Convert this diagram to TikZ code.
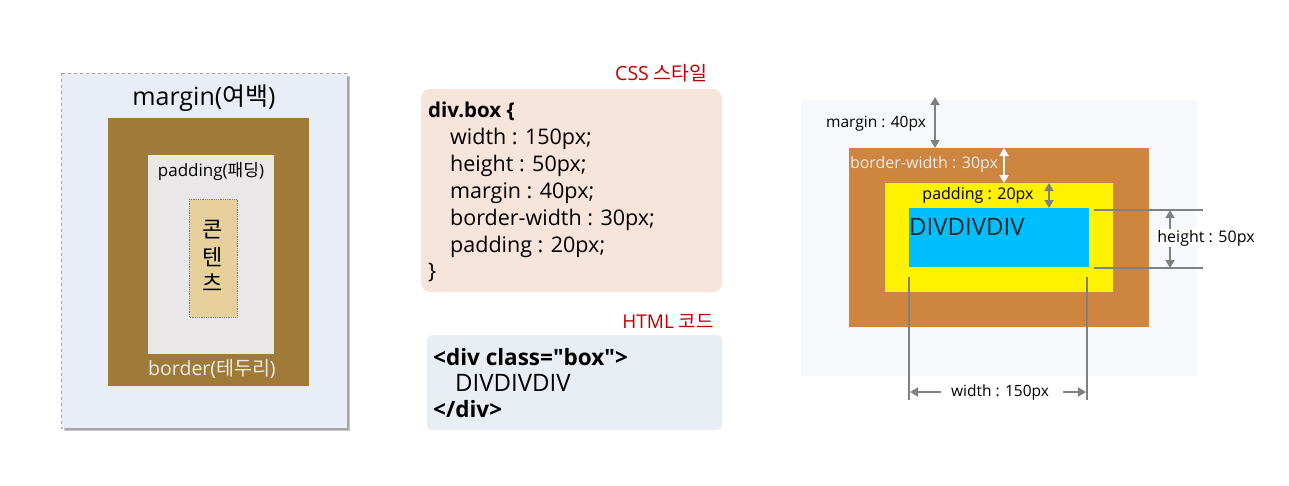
\documentclass[tikz,border=0pt]{standalone}
\usepackage{fontspec}
\setmainfont{Open Sans}[Ligatures=TeXOff]
\newfontfamily\kr{Noto Sans CJK KR}
\usetikzlibrary{arrows.meta}
\definecolor{mbg}{HTML}{E9EEF6}
\definecolor{bbrown}{HTML}{A07B38}
\definecolor{pgray}{HTML}{EAE7E8}
\definecolor{ctan}{HTML}{E8D09C}
\definecolor{cssbg}{HTML}{F7E4DA}
\definecolor{htmlbg}{HTML}{E9EEF5}
\definecolor{rred}{HTML}{C00000}
\definecolor{rmarg}{HTML}{F7F8FC}
\definecolor{rbord}{HTML}{CD8540}
\definecolor{rcyan}{HTML}{00BFFF}
\definecolor{agray}{HTML}{808080}
\tikzset{
  fs/.style={font=\fontsize{#1}{#1}\selectfont},
  fsb/.style={font=\fontsize{#1}{#1}\selectfont\bfseries},
  dim/.style={draw=agray, line width=1.8pt, {Triangle[length=8pt,width=9pt]}-{Triangle[length=8pt,width=9pt]}},
  dimone/.style={draw=agray, line width=1.8pt, -{Triangle[length=8pt,width=9pt]}},
  ext/.style={draw=agray, line width=1.3pt},
  codeline/.style={anchor=base west, inner sep=0pt, fs=21.5},
}
\begin{document}
\begin{tikzpicture}[x=1pt,y=-1pt]
\useasboundingbox (0,0) rectangle (1289,485);
% ---------- left panel
\fill[gray!45] (64,76) rectangle (350,431);
\fill[gray!70] (65,77) rectangle (349,430);
\filldraw[fill=mbg, draw=gray!70, dashed, line width=0.8pt] (61,73) rectangle (347,428);
\node[fs=25, inner sep=0pt] (mtxt) at (204,98) {margin({\kr 여백})};
\fill[bbrown] (108,118) rectangle (309,386);
\fill[pgray] (148,155) rectangle (274,354);
\node[fs=17, inner sep=0pt] (ptxt) at (211,172) {padding({\kr 패딩})};
\filldraw[fill=ctan, draw=gray, densely dotted, line width=0.8pt] (189,199) rectangle (237,317);
\node[fs=22, inner sep=0pt] (c1) at (213,230) {\kr 콘};
\node[fs=22, inner sep=0pt] (c2) at (213,257) {\kr 텐};
\node[fs=22, inner sep=0pt] (c3) at (213,283) {\kr 츠};
\node[fs=19.5, inner sep=0pt, text=white!92!black] (btxt) at (212,369) {border({\kr 테두리})};
% ---------- CSS box
\node[fs=19.5, text=rred, anchor=east, inner sep=0pt] (csslbl) at (708,73) {CSS {\kr 스타일}};
\fill[cssbg, rounded corners=9pt] (421,89) rectangle (722,292);
\node[codeline, fsb=20.5] (l0) at (428,117) {div.box \{};
\node[codeline] (l1) at (450,144) {width : 150px;};
\node[codeline] (l2) at (450,171) {height : 50px;};
\node[codeline] (l3) at (450,198) {margin : 40px;};
\node[codeline] (l4) at (450,225) {border-width : 30px;};
\node[codeline] (l5) at (450,252) {padding : 20px;};
\node[codeline] (l6) at (428,278) {\}};
% ---------- HTML box
\node[fs=19, text=rred, anchor=east, inner sep=0pt] (htmllbl) at (714,321) {HTML {\kr 코드}};
\fill[htmlbg, rounded corners=5pt] (427,335) rectangle (722,430);
\node[codeline, fsb=22.5] (h0) at (433,365) {<div class="box">};
\node[codeline, fs=24] (h1) at (455,391) {DIVDIVDIV};
\node[codeline, fsb=22.5] (h2) at (433,417) {</div>};
% ---------- right box model
\fill[rmarg] (801,100) rectangle (1197,376);
\fill[rbord] (849,148) rectangle (1149,327);
\fill[yellow] (885,183) rectangle (1113,292);
\fill[rcyan] (909,208) rectangle (1089,267);
\node[fs=24, anchor=west, inner sep=0pt, text=black!85] (divtxt) at (909,227) {DIVDIVDIV};
% margin arrow
\coordinate (mt) at (935,97); \coordinate (mb) at (935,148);
\draw[dim] (mt) -- (mb);
\node[fs=15.5, inner sep=0pt] (mlbl) at (876,124) {margin : 40px};
% border arrow
\coordinate (bt) at (1004,148); \coordinate (bb) at (1004,183);
\draw[dim, draw=white] (bt) -- (bb);
\node[fs=16, inner sep=0pt, text=white!92!black] (blbl) at (924,164) {border-width : 30px};
% padding arrow
\coordinate (pt) at (1049,183); \coordinate (pb) at (1049,208);
\draw[dim] (pt) -- (pb);
\node[fs=16, inner sep=0pt] (plbl) at (978,195) {padding : 20px};
% height
\coordinate (h1a) at (1094,210); \coordinate (h1b) at (1203,210);
\coordinate (h2a) at (1094,268); \coordinate (h2b) at (1203,268);
\draw[ext] (h1a) -- (h1b);
\draw[ext] (h2a) -- (h2b);
\coordinate (ht) at (1170,210); \coordinate (hb) at (1170,268);
\draw[dim] (ht) -- (hb);
\node[fs=16, fill=white, inner sep=1pt] (hlbl) at (1206,238) {height : 50px};
% width
\coordinate (w1a) at (909,277); \coordinate (w1b) at (909,400);
\coordinate (w2a) at (1087,277); \coordinate (w2b) at (1087,400);
\draw[ext] (w1a) -- (w1b);
\draw[ext] (w2a) -- (w2b);
\node[fs=15.5, inner sep=0pt] (wlbl) at (1000,392) {width : 150px};
\coordinate (wl) at (910,392); \coordinate (wr) at (1086,392);
\coordinate (wlm) at (941,392); \coordinate (wrm) at (1063,392);
\draw[dimone] (wlm) -- (wl);
\draw[dimone] (wrm) -- (wr);
\end{tikzpicture}
\end{document}
